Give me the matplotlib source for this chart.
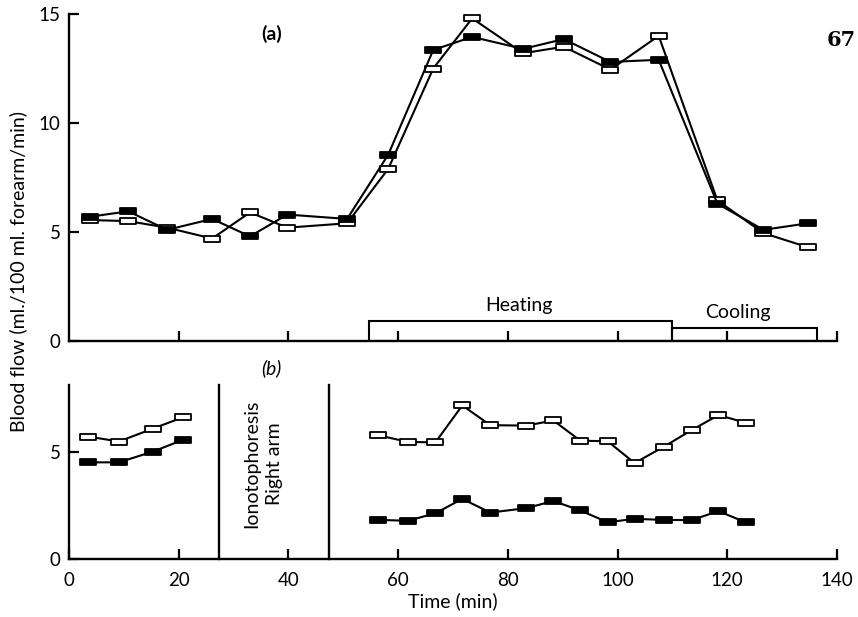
import numpy as np
import matplotlib.pyplot as plt
from matplotlib.path import Path
from matplotlib.patches import Rectangle

plt.rcParams['font.family'] = ['Lato', 'DejaVu Sans']

# ---- data ----
# panel (a)
t_a = [3.8, 10.8, 17.9, 26.1, 33.0, 39.8, 50.7, 58.2, 66.4, 73.5, 82.8, 90.2, 98.7, 107.5, 118.2, 126.6, 134.7]
filled_a = [5.7, 5.95, 5.1, 5.6, 4.8, 5.8, 5.6, 8.55, 13.35, 13.95, 13.4, 13.85, 12.8, 12.9, 6.3, 5.1, 5.4]
open_a = [5.55, 5.5, 5.2, 4.7, 5.9, 5.2, 5.4, 7.9, 12.5, 14.8, 13.2, 13.5, 12.45, 14.0, 6.45, 4.95, 4.3]

# panel (b), before and after ionotophoresis
t_b1 = [3.5, 9.1, 15.3, 20.8]
open_b1 = [5.7, 5.47, 6.07, 6.6]
filled_b1 = [4.5, 4.5, 5.0, 5.55]

t_b2 = [56.4, 61.8, 66.8, 71.7, 76.8, 83.4, 88.3, 93.2, 98.2, 103.1, 108.4, 113.5, 118.4, 123.4]
open_b2 = [5.76, 5.45, 5.43, 7.15, 6.23, 6.21, 6.45, 5.51, 5.48, 4.47, 5.22, 6.0, 6.7, 6.34]
filled_b2 = [1.82, 1.78, 2.13, 2.8, 2.16, 2.37, 2.7, 2.26, 1.71, 1.87, 1.82, 1.81, 2.23, 1.70]

heating = (54.6, 109.9, 0.92)
cooling = (109.9, 136.3, 0.6)
ionto = (27.4, 47.4)

### marker: flat rectangle ###
rect = Path([(-1, -0.45), (1, -0.45), (1, 0.45), (-1, 0.45), (-1, -0.45)],
            [Path.MOVETO, Path.LINETO, Path.LINETO, Path.LINETO, Path.CLOSEPOLY])

FS = 14

def series(ax, x, y, fill):
    ax.plot(x, y, color='black', lw=1.5, marker=rect, ms=11,
            mfc='black' if fill else 'white', mec='black', mew=1.3, zorder=3)

def style(ax):
    for s in ['top', 'right']:
        ax.spines[s].set_visible(False)
    for s in ['left', 'bottom']:
        ax.spines[s].set_linewidth(1.7)
    ax.tick_params(direction='in', length=7, width=1.6, labelsize=13.5, pad=6)
    ax.tick_params(axis='x', pad=9)
    ax.set_xlim(0, 140)

fig = plt.figure(figsize=(8.58, 6.17), dpi=100)
ax1 = fig.add_axes([0.0804, 0.4473, 0.8951, 0.530])
ax2 = fig.add_axes([0.0804, 0.094, 0.8951, 0.282])

# (a)
style(ax1)
ax1.set_ylim(0, 15)
ax1.set_yticks([0, 5, 10, 15])
ax1.set_xticks([20, 40, 60, 80, 100, 120, 140])
ax1.tick_params(axis='x', labelbottom=False)
series(ax1, t_a, open_a, False)
series(ax1, t_a, filled_a, True)
for x0, x1, h in [heating, cooling]:
    ax1.add_patch(Rectangle((x0, 0), x1 - x0, h, fill=False, lw=1.5, ec='black', zorder=2))
ax1.text(82, 1.65, 'Heating', ha='center', va='center', fontsize=FS)
ax1.text(122, 1.3, 'Cooling', ha='center', va='center', fontsize=FS)
ax1.text(37, 14.1, '(a)', ha='center', va='center', fontsize=FS, fontweight='bold')

# (b)
style(ax2)
ax2.set_ylim(0, 8.1)
ax2.set_yticks([0, 5])
ax2.set_xticks([0, 20, 40, 60, 80, 100, 120, 140])
for xv in ionto:
    ax2.plot([xv, xv], [0, 8.1], color='black', lw=1.7, clip_on=False)
ax2.text(35.4, 4.45, 'Ionotophoresis\nRight arm', rotation=90, ha='center', va='center',
         fontsize=FS, linespacing=1.4)
series(ax2, t_b1, open_b1, False)
series(ax2, t_b1, filled_b1, True)
series(ax2, t_b2, open_b2, False)
series(ax2, t_b2, filled_b2, True)
ax2.text(36.8, 8.9, '(b)', ha='center', va='center', fontsize=FS, style='italic', clip_on=False)
ax2.set_xlabel('Time (min)', fontsize=FS, labelpad=3)

fig.text(18 / 858, 1 - 272 / 617, 'Blood flow (ml./100 ml. forearm/min)', rotation=90,
         ha='center', va='center', fontsize=FS)
fig.text(856 / 858, 1 - 40 / 617, '67', ha='right', va='center', fontsize=15,
         family='DejaVu Serif', fontweight='bold')

fig.savefig('out.png', dpi=100)
